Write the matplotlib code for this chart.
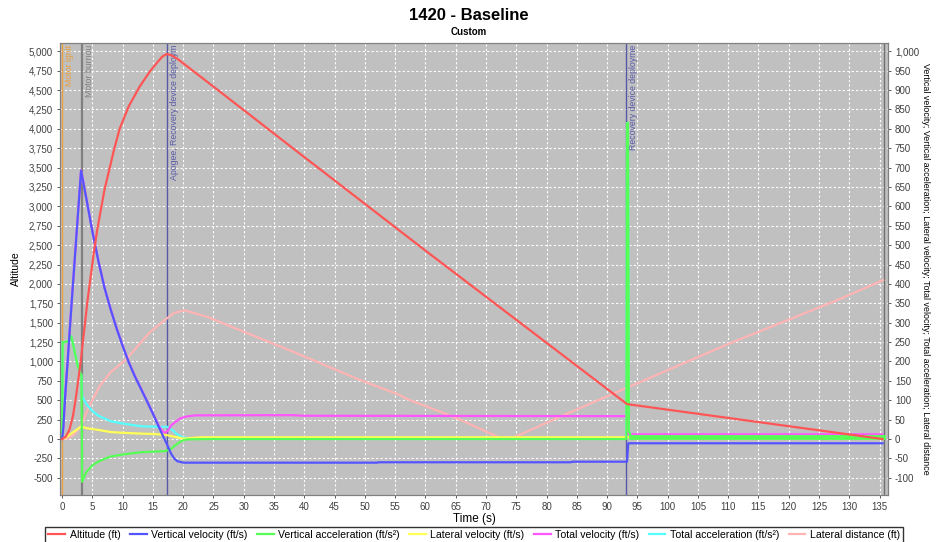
import matplotlib
matplotlib.use("Agg")
import matplotlib.pyplot as plt
import numpy as np

plt.rcParams['font.family'] = ['Liberation Sans', 'DejaVu Sans']

# altitude (ft), left axis
alt_t = [0, 0.6, 1.2, 1.8, 2.3, 3.1, 4.2, 5.3, 5.8, 7.0, 8.6, 9.5, 11.0, 12.8, 14.5, 15.8, 16.6,
         17.3, 18.0, 19.0, 20.0, 25.4, 38.6, 60.0, 93.3, 135.5]
alt = [0, 30, 117, 300, 548, 1020, 1790, 2440, 2700, 3215, 3740, 4000, 4290, 4545, 4740, 4865, 4935,
       4965, 4950, 4905, 4845, 4520, 3720, 2430, 450, 0]

# vertical velocity (ft/s)
vv_t = [0, 0.2, 0.5, 1.0, 1.5, 2.0, 2.5, 3.13, 4.0, 5.0, 6.0, 7.0, 8.0, 9.0, 10.0, 11.0, 12.0, 13.0,
        13.9, 15.0, 16.0, 16.9, 17.5, 18.0, 18.5, 19.0, 20.0, 52.0, 52.3, 84.0, 84.3, 93.3, 93.5, 135.5]
vv = [0, 30, 110, 220, 335, 445, 555, 692, 620, 535, 458, 390, 335, 285, 240, 198, 162, 130,
      101, 65, 30, 0, -20, -38, -50, -57, -61, -61, -60, -60, -58.5, -58.5, -11, -11]

# vertical acceleration (ft/s^2)
va_t = [0, 0.08, 0.5, 1.1, 1.3, 1.5, 1.8, 2.2, 2.6, 3.0, 3.2, 3.3, 4.0, 5.0, 6.0, 8.0, 10.0, 13.0,
        17.1, 18.0, 18.8, 19.6, 20.5, 25.0, 93.2, 93.3, 93.45, 93.6, 94.0, 135.5]
va = [0, 250, 250, 252, 262, 265, 245, 215, 187, 170, 165, -110, -85, -68, -58, -45, -40, -34,
      -31, -25, -15, -6, -1, 0, 0, 815, 815, 20, 5, 5]

# lateral velocity (ft/s)
lv_t = [0, 0.5, 1.5, 2.5, 3.13, 4.0, 6.15, 8.0, 10.0, 13.0, 15.0, 17.0, 18.5, 20.0, 21.5, 23.0, 93.3, 93.5, 135.5]
lv = [0, 3, 14, 25, 32, 28, 23, 18, 16, 14, 13, 11, 6, 1, 3, 4.5, 4.5, 5, 5]

# total velocity (ft/s)
tv_t = [0, 0.2, 0.5, 1.0, 1.5, 2.0, 2.5, 3.13, 4.0, 5.0, 6.0, 7.0, 8.0, 9.0, 10.0, 11.0, 12.0, 13.0,
        13.9, 15.0, 16.0, 16.6, 17.0, 17.5, 18.0, 18.8, 19.5, 20.5, 22.0, 38.0, 40.0, 93.3, 93.5, 135.5]
tv = [0, 30, 110, 221, 336, 446, 556, 693, 621, 536, 459, 391, 336, 286, 241, 199, 163, 131,
      102, 66, 33, 20, 15, 22, 35, 45, 53, 58, 61, 61.5, 60, 59, 12, 12]

# total acceleration (ft/s^2)
ta_t = [0, 0.08, 0.5, 1.1, 1.3, 1.5, 1.8, 2.2, 2.6, 3.0, 3.2, 3.3, 4.0, 5.0, 6.0, 8.0, 10.0, 13.0,
        16.5, 17.2, 17.7, 18.3, 19.0, 19.9, 21.0, 93.2, 93.3, 93.45, 93.6, 94.0, 135.5]
ta = [0, 250, 250, 252, 262, 265, 245, 215, 187, 170, 165, 110, 90, 72, 60, 46, 40, 33,
      31, 32, 28, 22, 12, 4, 2, 2, 815, 815, 20, 6, 6]

# lateral distance (ft)
ld_t = [0, 1.0, 2.0, 3.13, 3.4, 4.5, 6.15, 8.0, 10.55, 12.5, 14.4, 17.2, 18.5, 20.2, 24.0, 29.8, 38.0,
        49.1, 55.7, 57.0, 65.0, 72.2, 74.6, 83.2, 93.1, 110.0, 128.3, 135.6]
ld = [0, 2, 12, 35, 45, 85, 135, 172, 205, 240, 274, 310, 325, 332, 315, 278, 226,
      153, 114, 103, 55, 4, 4, 64, 131, 245, 360, 410]

# flight events (labels truncated as in the original chart)
events_t = [0.0, 3.3, 17.3, 93.1, 135.7]
events_lbl = ["Motor ignit", "Motor burnou", "Apogee, Recovery device deploym",
              "Recovery device deployme", ""]
events_col = ["#E8A040", "#808080", "#5858A8", "#5858A8", "#707070"]

fig = plt.figure(figsize=(9.37, 5.42), dpi=100)
ax = fig.add_axes([60 / 937, 47 / 542, 828 / 937, 452 / 542])
ax.set_facecolor("#C0C0C0")
ax.set_axisbelow(True)
ax.grid(True, color="white", linestyle=(0, (2, 2)), linewidth=0.8)

# right-axis series (ax), drawn in reverse order like the original
l7, = ax.plot(ld_t, ld, color="#FFB4B4", lw=1.6, zorder=1, label="Lateral distance (ft)")
l6, = ax.plot(ta_t, ta, color="#55FFFF", lw=1.6, zorder=2, label="Total acceleration (ft/s²)")
l5, = ax.plot(tv_t, tv, color="#FF55FF", lw=1.6, zorder=3, label="Total velocity (ft/s)")
l4, = ax.plot(lv_t, lv, color="#FFFF55", lw=1.6, zorder=4, label="Lateral velocity (ft/s)")
l3, = ax.plot(va_t, va, color="#55FF55", lw=1.6, zorder=5, label="Vertical acceleration (ft/s²)")
ax.plot(va_t[-2:], va[-2:], color="#55FF55", lw=3.5, zorder=5)
l2, = ax.plot(vv_t, vv, color="#5555FF", lw=1.6, zorder=6, label="Vertical velocity (ft/s)")

for t, lbl, c in zip(events_t, events_lbl, events_col):
    ax.axvline(t, color=c, lw=1.6 if c == "#808080" else 1.0, zorder=0.8)
    if lbl:
        ax.text(t + 0.45, 1016, lbl, rotation=90, ha="left", va="top", color=c,
                fontsize=6.3, zorder=0.9)

ax.set_xlim(-0.35, 136.4)
ax.set_ylim(-144.4, 1021.4)
ax.set_xticks(np.arange(0, 136, 5))
ax.set_xlabel("Time (s)", fontsize=8.5, labelpad=1)

# altitude on left axis
ax2 = ax.twinx()
l1, = ax2.plot(alt_t, alt, color="#FF5555", lw=1.6, zorder=7, label="Altitude (ft)")
ax2.set_ylim(-722, 5107)
ax2.set_yticks(np.arange(-500, 5001, 250))
ax2.set_yticklabels([f"{v:,}" for v in range(-500, 5001, 250)])
ax2.yaxis.tick_left()
ax2.yaxis.set_label_position("left")
ax2.set_ylabel("Altitude", fontsize=7.5, labelpad=6)

ax.yaxis.tick_right()
ax.yaxis.set_label_position("right")
ax.set_yticks(np.arange(-100, 1001, 50))
ax.set_yticklabels([f"{v:,}" for v in range(-100, 1001, 50)])
ax.set_ylabel("Vertical velocity; Vertical acceleration; Lateral velocity; Total velocity; "
              "Total acceleration; Lateral distance", rotation=270, labelpad=8, fontsize=6.4)

for a in (ax, ax2):
    a.tick_params(labelsize=7, colors="#404040", length=2.5, width=0.6, pad=2.5)
    for s in a.spines.values():
        s.set_color("#808080")

fig.suptitle("1420 - Baseline", y=0.985, fontsize=12, fontweight="bold")
fig.text(0.5, 0.935, "Custom", ha="center", fontsize=7, fontweight="bold")

handles = [l1, l2, l3, l4, l5, l6, l7]
fig.legend(handles, [h.get_label() for h in handles], loc="lower center",
           bbox_to_anchor=(0.506, -0.012), ncol=7, fontsize=7.6, frameon=True,
           fancybox=False, edgecolor="black", handlelength=1.6, columnspacing=0.9,
           handletextpad=0.4, borderpad=0.3)

fig.savefig("out.png", dpi=100)
